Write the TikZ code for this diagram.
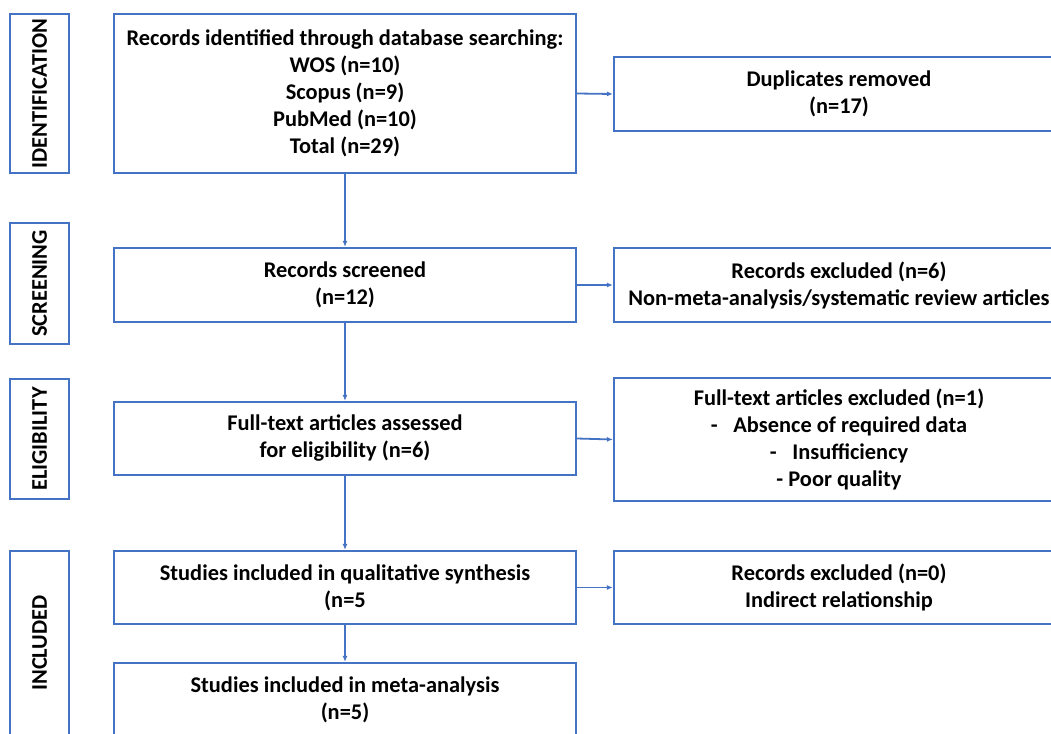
\documentclass[tikz,border=0pt]{standalone}
\usepackage{fontspec}
\setmainfont{Carlito}
\usepackage{xcolor}
\usepackage{tikz}
\usetikzlibrary{arrows.meta,positioning}
\definecolor{Frame}{HTML}{4472C4}
\definecolor{Ink}{HTML}{000000}

\begin{document}
\begin{tikzpicture}[x=1pt,y=-1pt,>={Latex[length=6pt,width=5pt]},
  every node/.style={font=\fontsize{22.4}{27}\selectfont\bfseries,text=Ink},
  flowbox/.style={draw=Frame,line width=2.2pt,align=center,inner sep=0pt,minimum width=462},
  exclbox/.style={draw=Frame,line width=2.2pt,align=center,inner sep=0pt,minimum width=450},
  phasebox/.style={draw=Frame,line width=2.2pt,rotate=90,inner sep=0pt,minimum height=59},
  link/.style={Frame,line width=1.8pt,->}]
  \useasboundingbox (0,0) rectangle (1051,733);
  \clip (0,0) rectangle (1051,733);
  % phase labels
  \node[phasebox,minimum width=159] (phIdent) at (39.5,93.5) {IDENTIFICATION};
  \node[phasebox,minimum width=121] (phScreen) at (39.5,283.5) {SCREENING};
  \node[phasebox,minimum width=120] (phElig) at (39.5,439) {ELIGIBILITY};
  \node[phasebox,minimum width=184] (phIncl) at (39.5,643) {INCLUDED};
  % main column
  \node[flowbox,minimum height=159] (records) at (345,93.5) {Records identified through database searching:\\WOS (n=10)\\Scopus (n=9)\\PubMed (n=10)\\Total (n=29)};
  \node[flowbox,minimum height=74] (screened) at (345,285) {Records screened\\(n=12)};
  \node[flowbox,minimum height=73] (fulltext) at (345,438.5) {Full-text articles assessed\\for eligibility (n=6)};
  \node[flowbox,minimum height=73] (qualit) at (345,587.5) {Studies included in qualitative synthesis\\(n=5};
  \node[flowbox,minimum height=74] (meta) at (345,700) {Studies included in meta-analysis\\(n=5)};
  % exclusions
  \node[exclbox,minimum height=74] (dupl) at (839,94) {Duplicates removed\\(n=17)};
  \node[exclbox,minimum height=74] (exclScreen) at (839,285) {Records excluded (n=6)\\Non-meta-analysis/systematic review articles};
  \node[exclbox,minimum height=123] (exclFull) at (839,439.5) {Full-text articles excluded (n=1)\\-\hspace{0.7em}Absence of required data\\-\hspace{0.7em}Insufficiency\\- Poor quality};
  \node[exclbox,minimum height=73] (exclQual) at (839,587.5) {Records excluded (n=0)\\Indirect relationship};
  % connectors
  \draw[link] (records) -- (screened);
  \draw[link] (screened) -- (fulltext);
  \draw[link] (fulltext) -- (qualit);
  \draw[link] (qualit) -- (meta);
  \draw[link] (records.east) -- (dupl.west);
  \draw[link] (screened.east) -- (exclScreen.west);
  \draw[link] (fulltext.east) -- (exclFull.west);
  \draw[link] (qualit.east) -- (exclQual.west);
\end{tikzpicture}
\end{document}
